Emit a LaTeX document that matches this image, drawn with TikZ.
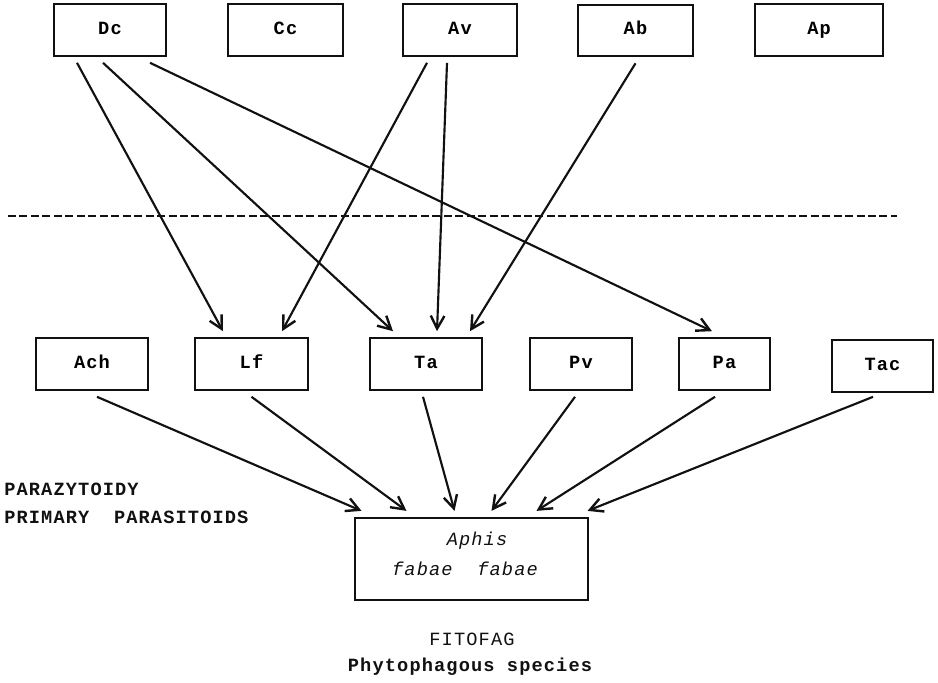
\documentclass[tikz,border=0pt]{standalone}
\usepackage{fontspec}
\usepackage{xcolor}
\usepackage{tikz}
\usetikzlibrary{calc,arrows.meta}
\newfontfamily\dotfont{Liberation Mono}[LetterSpace=6]
\definecolor{ink}{HTML}{111111}
\tikzset{
  box/.style={draw=ink, line width=1.7pt, minimum height=38.5pt, inner sep=0pt, text height=8pt, text depth=2pt, font=\dotfont\bfseries\fontsize{14}{16}\selectfont},
  arr/.style={draw=ink, line width=1.6pt, -{Straight Barb[length=3.4mm,width=3.6mm,line width=1.8pt]}},
  help/.style={draw=ink, line width=1.8pt, dash pattern=on 6pt off 2.6pt},
  lab/.style={text=ink, font=\dotfont\bfseries\fontsize{14}{16}\selectfont, inner sep=0pt},
  labit/.style={text=ink, font=\dotfont\itshape\fontsize{14}{16}\selectfont, inner sep=0pt},
}
\begin{document}
\begin{tikzpicture}[x=0.75pt,y=-0.75pt]
  \useasboundingbox (0,0) rectangle (938,682);

  % parasitoids above the line
  \node[box,minimum width=84pt] (Dc) at (110,30) {Dc};
  \node[box,minimum width=86pt] (Cc) at (285.5,30) {Cc};
  \node[box,minimum width=85.5pt] (Av) at (460,30) {Av};
  \node[box,minimum width=86pt] (Ab) at (635.5,30.5) {Ab};
  \node[box,minimum width=96pt] (Ap) at (819,30) {Ap};

  \coordinate (dashL) at (8,216);
  \coordinate (dashR) at (897,216);
  \draw[help] (dashL) -- (dashR);

  % primary parasitoids
  \node[box,minimum width=84pt] (Ach) at (92,364) {Ach};
  \node[box,minimum width=84.5pt] (Lf) at (251.5,364) {Lf};
  \node[box,minimum width=84pt] (Ta) at (426,364) {Ta};
  \node[box,minimum width=76.5pt] (Pv) at (581,364) {Pv};
  \node[box,minimum width=68pt] (Pa) at (724.5,364) {Pa};
  \node[box,minimum width=76pt] (Tac) at (882.5,366) {Tac};

  % host
  \node[box,minimum width=175pt,minimum height=61.5pt] (Af) at (471.5,559) {};
  \node[labit] (AfA) at (477,541) {Aphis};
  \node[labit] (AfB) at (465,569) {fabae\ \ fabae};

  \node[lab,anchor=west] (parPL) at (4,489) {PARAZYTOIDY};
  \node[lab,anchor=west] (parEN) at (4,517) {PRIMARY\ \ PARASITOIDS};
  \node[lab,font=\dotfont\fontsize{14}{16}\selectfont] (fitPL) at (472,639) {FITOFAG};
  \node[lab] (fitEN) at (470,667) {Phytophagous species};

  % top -> middle
  \draw[arr] ($(Dc.south)+(-33,6)$) -- ($(Lf.north)+(-28.5,-6)$);
  \draw[arr] ($(Dc.south)+(-7,6)$) -- ($(Ta.north)+(-33,-6)$);
  \draw[arr] ($(Dc.south)+(40,6)$) -- ($(Pa.north)+(-12.5,-6)$);
  \draw[arr] ($(Av.south)+(-33,6)$) -- ($(Lf.north)+(30.5,-6)$);
  \draw[arr] ($(Av.south)+(-13,6)$) -- ($(Ta.north)+(11,-6)$);
  \draw[arr] ($(Ab.south)+(0,6)$) -- ($(Ta.north)+(44,-6)$);

  % middle -> host
  \draw[arr] ($(Ach.south)+(5,6)$) -- ($(Af.north)+(-110,-6)$);
  \draw[arr] ($(Lf.south)+(0,6)$) -- ($(Af.north)+(-65,-6)$);
  \draw[arr] ($(Ta.south)+(-3,6)$) -- ($(Af.north)+(-17,-6)$);
  \draw[arr] ($(Pv.south)+(-6,6)$) -- ($(Af.north)+(20,-6)$);
  \draw[arr] ($(Pa.south)+(-9.5,6)$) -- ($(Af.north)+(65,-6)$);
  \draw[arr] ($(Tac.south)+(-9.5,4)$) -- ($(Af.north)+(116,-6)$);
\end{tikzpicture}
\end{document}
